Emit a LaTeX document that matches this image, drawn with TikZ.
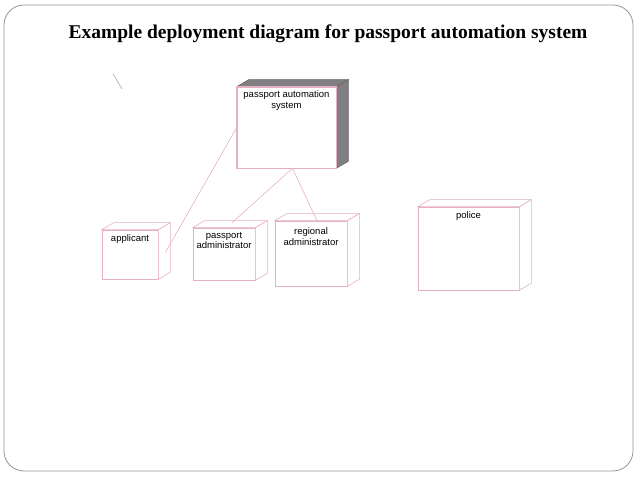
\documentclass[tikz,border=0pt]{standalone}
\usepackage{fontspec}
\setmainfont{Liberation Serif}
\setsansfont{Liberation Sans}
\usepackage{xcolor}
\usepackage{tikz}
\usetikzlibrary{positioning}

\definecolor{edgepink}{RGB}{230,176,196}
\definecolor{sidegray}{RGB}{128,126,128}
\definecolor{framegray}{RGB}{150,150,150}

% top and right faces of a deployment node
\newcommand{\cubefaces}[2][white]{%
  \draw[faceline, fill=#1] (#2.north west) -- ([shift={(12,-7)}]#2.north west)
    -- ([shift={(12,-7)}]#2.north east) -- (#2.north east) -- cycle;
  \draw[faceline, fill=#1] (#2.north east) -- ([shift={(12,-7)}]#2.north east)
    -- ([shift={(12,-7)}]#2.south east) -- (#2.south east) -- cycle;
}

\begin{document}
\begin{tikzpicture}[
    x=1pt, y=-1pt,
    box/.style={rectangle, draw=edgepink, fill=white, line width=0.6pt, inner sep=0pt},
    faceline/.style={draw=edgepink, line width=0.6pt},
    boxtext/.style={font=\sffamily\fontsize{9.5}{10.5}\selectfont, align=center, inner sep=0pt},
    link/.style={edgepink, line width=0.6pt}
]
    \useasboundingbox (0,0) rectangle (638,478);
    \draw[framegray, line width=0.8pt, rounded corners=20] (4,5) rectangle (633,471);

    % Title
    \node[font=\bfseries\fontsize{19.5}{22}\selectfont] (title) at (328,34)
        {Example deployment diagram for passport automation system};

    % Nodes
    \node[box, minimum width=99, minimum height=81] (sys) at (286.5,127.5) {};
    \begin{scope}[faceline/.append style={draw=sidegray!80!black}]
        \cubefaces[sidegray]{sys}
    \end{scope}
    \draw[edgepink, line width=0.6pt] (sys.north west) rectangle (sys.south east);
    \node[boxtext, below=4pt of sys.north] (systext) {passport automation\\system};

    \node[box, minimum width=56, minimum height=49] (app) at (130,254.5) {};
    \cubefaces{app}
    \node[boxtext, below=5pt of app.north] (apptext) {applicant};

    \node[box, minimum width=62, minimum height=52] (padm) at (224,254) {};
    \cubefaces{padm}
    \node[boxtext, below=4pt of padm.north] (padmtext) {passport\\administrator};

    \node[box, minimum width=72, minimum height=65] (radm) at (311,253.5) {};
    \cubefaces{radm}
    \node[boxtext, below=7pt of radm.north] (radmtext) {regional\\administrator};

    \node[box, minimum width=101, minimum height=83] (pol) at (468.5,248.5) {};
    \cubefaces{pol}
    \node[boxtext, below=5pt of pol.north] (poltext) {police};

    % Links
    \coordinate (append) at ([shift={(7,-2)}]app.east);
    \coordinate (sysfoot) at ([xshift=6]sys.south);
    \draw[link] (sys.west) -- (append);
    \draw[link] (sysfoot) -- ([shift={(8,-5)}]padm.north);
    \draw[link] (sysfoot) -- ([xshift=6]radm.north);

    % stray stroke
    \coordinate (strayA) at (113,74);
    \coordinate (strayB) at (122,89);
    \draw[link, draw=edgepink!60!gray] (strayA) -- (strayB);
\end{tikzpicture}
\end{document}
